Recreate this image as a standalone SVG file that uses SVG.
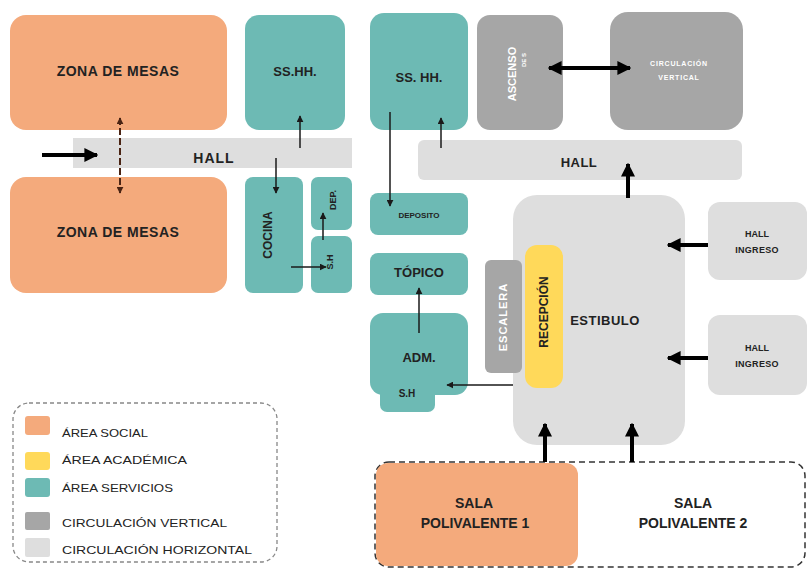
<svg xmlns="http://www.w3.org/2000/svg" width="807" height="574" viewBox="0 0 807 574">
<style>
.soc{fill:#F4AA7C}
.srv{fill:#6DBAB4}
.cv{fill:#A6A6A6}
.ch{fill:#DEDEDE}
.aca{fill:#FFD95A}
text{font-family:"Liberation Sans",Arial,sans-serif;font-weight:bold;fill:#222;text-anchor:middle}
.w{fill:#fff}
.leg{font-weight:normal;text-anchor:start;font-size:11px;fill:#222}
.thin{stroke:#1a1a1a;stroke-width:1.5;fill:none}
.thick{stroke:#000;stroke-width:4;fill:none}
</style>
<defs>
<marker id="ah" viewBox="0 0 10 10" refX="9" refY="5" markerWidth="7" markerHeight="7" markerUnits="userSpaceOnUse" orient="auto-start-reverse"><path d="M0,0L10,5L0,10z" fill="#1a1a1a"/></marker>
<marker id="ahb" viewBox="0 0 10 10" refX="9" refY="5" markerWidth="7" markerHeight="7" markerUnits="userSpaceOnUse" orient="auto-start-reverse"><path d="M0,0L10,5L0,10z" fill="#4a2414"/></marker>
<marker id="AH" viewBox="0 0 10 10" refX="9" refY="5" markerWidth="14" markerHeight="14" markerUnits="userSpaceOnUse" orient="auto-start-reverse"><path d="M0,0L10,5L0,10z" fill="#000"/></marker>
</defs>

<g id="zona-mesas-1"><rect class="soc" x="10" y="15" width="217" height="115" rx="16"/><text x="118" y="76" font-size="14" letter-spacing="0.5">ZONA DE MESAS</text></g>
<g id="zona-mesas-2"><rect class="soc" x="10" y="177" width="217" height="116" rx="16"/><text x="118" y="237" font-size="14" letter-spacing="0.5">ZONA DE MESAS</text></g>
<g id="hall-1"><rect class="ch" x="73" y="138" width="279" height="30"/><text x="214" y="163" font-size="14" letter-spacing="1">HALL</text></g>
<g id="sshh-1"><rect class="srv" x="245" y="15" width="100" height="115" rx="14"/><text x="295" y="76" font-size="13">SS.HH.</text></g>
<g id="cocina"><rect class="srv" x="245" y="177" width="58" height="116" rx="8"/><text transform="translate(272,235) rotate(-90)" font-size="12">COCINA</text></g>
<g id="dep"><rect class="srv" x="311" y="177" width="41" height="53" rx="7"/><text transform="translate(336,200) rotate(-90)" font-size="9">DEP.</text></g>
<g id="sh-1"><rect class="srv" x="311" y="236" width="41" height="57" rx="7"/><text transform="translate(333,262) rotate(-90)" font-size="9">S.H</text></g>

<g id="sshh-2"><rect class="srv" x="370" y="13" width="98" height="117" rx="14"/><text x="419" y="82" font-size="13">SS. HH.</text></g>
<g id="ascensor"><rect class="cv" x="477" y="15" width="86" height="115" rx="13"/><text class="w" transform="translate(516,74) rotate(-90)" font-size="11">ASCENSO</text><text class="w" transform="translate(526,60) rotate(-90)" font-size="6">DE S</text></g>
<g id="circ-vertical"><rect class="cv" x="610" y="12" width="133" height="118" rx="18"/><text class="w" x="679" y="66" font-size="7" letter-spacing="0.8">CIRCULACIÓN</text><text class="w" x="679" y="80" font-size="7" letter-spacing="0.8">VERTICAL</text></g>
<g id="hall-2"><rect class="ch" x="418" y="140" width="324" height="40" rx="6"/><text x="579" y="167" font-size="13" letter-spacing="0.5">HALL</text></g>
<g id="deposito"><rect class="srv" x="370" y="193" width="98" height="42" rx="8"/><text x="419" y="218" font-size="8" font-weight="normal">DEPOSITO</text></g>
<g id="topico"><rect class="srv" x="370" y="253" width="98" height="42" rx="8"/><text x="419" y="277" font-size="13">TÓPICO</text></g>
<g id="adm"><rect class="srv" x="370" y="313" width="98" height="82" rx="13"/><text x="419" y="362" font-size="13">ADM.</text></g>
<g id="sh-2"><rect class="srv" x="380" y="375" width="55" height="37" rx="7"/><text x="407" y="397" font-size="10">S.H</text></g>

<g id="estibulo"><rect class="ch" x="513" y="195" width="172" height="250" rx="24"/><text x="605" y="325" font-size="13" letter-spacing="0.5">ESTIBULO</text></g>
<g id="escalera"><rect class="cv" x="485" y="260" width="37" height="113" rx="6"/><text class="w" transform="translate(507,317) rotate(-90)" font-size="11" letter-spacing="1">ESCALERA</text></g>
<g id="recepcion"><rect class="aca" x="525" y="245" width="38" height="143" rx="12"/><text transform="translate(548,312) rotate(-90)" font-size="12">RECEPCIÓN</text></g>
<g id="hall-ingreso-1"><rect class="ch" x="708" y="202" width="99" height="78" rx="12"/><text x="757" y="237" font-size="9">HALL</text><text x="757" y="253" font-size="9" letter-spacing="0.3">INGRESO</text></g>
<g id="hall-ingreso-2"><rect class="ch" x="708" y="315" width="99" height="80" rx="12"/><text x="757" y="351" font-size="9">HALL</text><text x="757" y="367" font-size="9" letter-spacing="0.3">INGRESO</text></g>

<g id="salas"><rect x="375" y="462" width="430" height="105" rx="14" fill="none" stroke="#333" stroke-width="1.5" stroke-dasharray="6 4"/></g>
<g id="sala-1"><rect class="soc" x="376" y="463" width="202" height="103" rx="12"/><text x="474" y="508" font-size="14">SALA</text><text x="475" y="528" font-size="14">POLIVALENTE 1</text></g>
<g id="sala-2"><text x="693" y="508" font-size="14">SALA</text><text x="693" y="528" font-size="14">POLIVALENTE 2</text></g>

<g id="leyenda">
<rect x="13" y="403" width="264" height="159" rx="16" fill="none" stroke="#888" stroke-width="1.3" stroke-dasharray="4 3"/>
<rect class="soc" x="25" y="416" width="25" height="19" rx="3"/>
<rect class="aca" x="25" y="452" width="25" height="18" rx="3"/>
<rect class="srv" x="25" y="478" width="25" height="19" rx="3"/>
<rect class="cv" x="25" y="512" width="25" height="18" rx="2"/>
<rect class="ch" x="25" y="538" width="25" height="19" rx="2"/>
<text class="leg" x="62" y="437" textLength="86" lengthAdjust="spacingAndGlyphs">ÁREA SOCIAL</text>
<text class="leg" x="62" y="464" textLength="125" lengthAdjust="spacingAndGlyphs">ÁREA ACADÉMICA</text>
<text class="leg" x="62" y="492" textLength="111" lengthAdjust="spacingAndGlyphs">ÁREA SERVICIOS</text>
<text class="leg" x="62" y="527" textLength="165" lengthAdjust="spacingAndGlyphs">CIRCULACIÓN VERTICAL</text>
<text class="leg" x="62" y="554" textLength="190" lengthAdjust="spacingAndGlyphs">CIRCULACIÓN HORIZONTAL</text>
</g>

<g id="connectors">
<line class="thick" x1="42" y1="155" x2="97" y2="155" marker-end="url(#AH)"/>
<line x1="120" y1="118" x2="120" y2="193" stroke="#4a2414" stroke-width="2" stroke-dasharray="7 3" marker-start="url(#ahb)" marker-end="url(#ahb)"/>
<line class="thin" x1="300" y1="148" x2="300" y2="116" marker-end="url(#ah)"/>
<line class="thin" x1="276" y1="158" x2="276" y2="193" stroke-width="2" marker-end="url(#ah)"/>
<line class="thin" x1="291" y1="267" x2="326" y2="267" marker-end="url(#ah)"/>
<line class="thin" x1="323" y1="240" x2="323" y2="213" marker-end="url(#ah)"/>
<line class="thin" x1="441" y1="148" x2="441" y2="118" stroke-width="2" marker-end="url(#ah)"/>
<line class="thin" x1="390" y1="112" x2="390" y2="206" stroke-width="1.2" marker-end="url(#ah)"/>
<line class="thick" x1="549" y1="68" x2="630" y2="68" marker-start="url(#AH)" marker-end="url(#AH)"/>
<line class="thick" x1="628" y1="198" x2="628" y2="164" marker-end="url(#AH)"/>
<line class="thick" x1="708" y1="245" x2="668" y2="245" marker-end="url(#AH)"/>
<line class="thick" x1="708" y1="358" x2="668" y2="358" marker-end="url(#AH)"/>
<line class="thin" x1="513" y1="385" x2="447" y2="385" marker-end="url(#ah)"/>
<line class="thin" x1="419" y1="333" x2="419" y2="288" marker-end="url(#ah)"/>
<line class="thick" x1="545" y1="462" x2="545" y2="424" marker-end="url(#AH)"/>
<line class="thick" x1="632" y1="462" x2="632" y2="424" marker-end="url(#AH)"/>
</g>
</svg>
